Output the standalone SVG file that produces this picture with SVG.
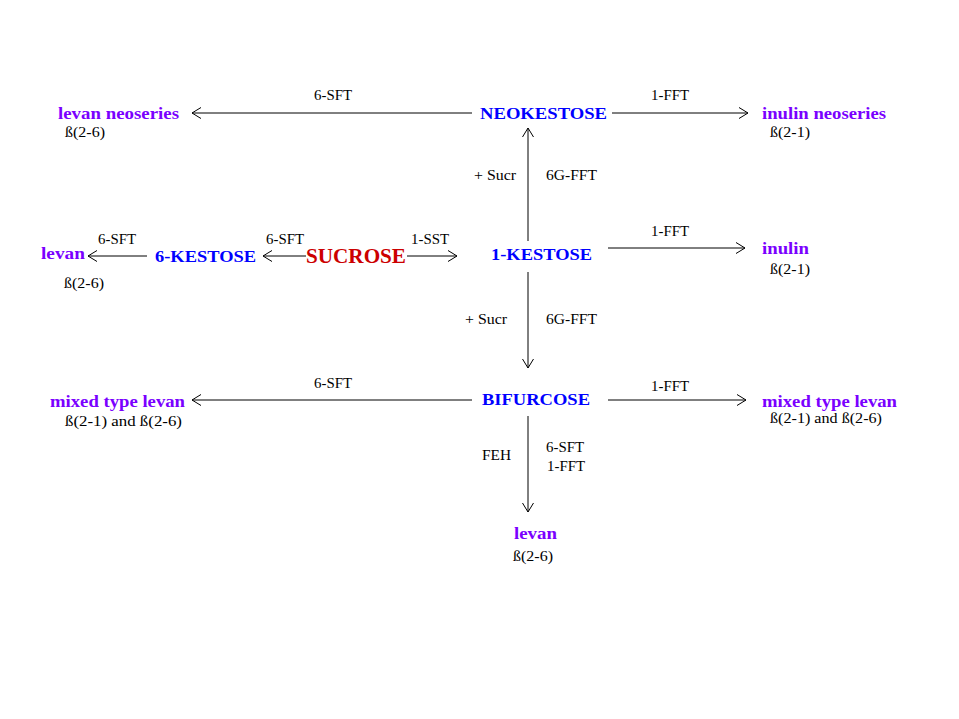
<svg xmlns="http://www.w3.org/2000/svg" width="959" height="719" viewBox="0 0 959 719">
<defs>
<marker id="ah" viewBox="0 0 10 12" refX="9" refY="6" markerWidth="10" markerHeight="12" markerUnits="userSpaceOnUse" orient="auto">
<path d="M0,0.5 L9,6 L0,11.5" fill="none" stroke="#000" stroke-width="1"/>
</marker>
<style>
.e{fill:none;stroke:#000;stroke-width:1;marker-end:url(#ah)}
.l{font-family:"Liberation Serif","Times New Roman",serif;font-size:15px;fill:#000}
.b{font-family:"Liberation Serif","Times New Roman",serif;font-size:17px;font-weight:bold;fill:#0000ff}
.p{font-family:"Liberation Serif","Times New Roman",serif;font-size:17px;font-weight:bold;fill:#7a00ff}
.r{font-family:"Liberation Serif","Times New Roman",serif;font-size:20px;font-weight:bold;fill:#cc0000}
</style>
</defs>
<rect width="959" height="719" fill="#fff"/>
<g id="connectors">
<line class="e" x1="472" y1="113" x2="192" y2="113"/>
<line class="e" x1="612" y1="113" x2="748" y2="113"/>
<line class="e" x1="528" y1="241" x2="528" y2="128"/>
<line class="e" x1="608" y1="248" x2="745" y2="248"/>
<line class="e" x1="147" y1="256" x2="88" y2="256"/>
<line class="e" x1="306" y1="256" x2="263" y2="256"/>
<line class="e" x1="407" y1="256" x2="457" y2="256"/>
<line class="e" x1="528" y1="272" x2="528" y2="368"/>
<line class="e" x1="472" y1="400" x2="192" y2="400"/>
<line class="e" x1="608" y1="400" x2="746" y2="400"/>
<line class="e" x1="528" y1="416" x2="528" y2="512"/>
<text class="l" x="314" y="100" textLength="38" lengthAdjust="spacingAndGlyphs">6-SFT</text>
<text class="l" x="651" y="100" textLength="38" lengthAdjust="spacingAndGlyphs">1-FFT</text>
<text class="l" x="474" y="180" textLength="42" lengthAdjust="spacingAndGlyphs">+ Sucr</text>
<text class="l" x="546" y="180" textLength="51" lengthAdjust="spacingAndGlyphs">6G-FFT</text>
<text class="l" x="98" y="244" textLength="38" lengthAdjust="spacingAndGlyphs">6-SFT</text>
<text class="l" x="266" y="244" textLength="38" lengthAdjust="spacingAndGlyphs">6-SFT</text>
<text class="l" x="411" y="244" textLength="38" lengthAdjust="spacingAndGlyphs">1-SST</text>
<text class="l" x="651" y="236" textLength="38" lengthAdjust="spacingAndGlyphs">1-FFT</text>
<text class="l" x="465" y="324" textLength="42" lengthAdjust="spacingAndGlyphs">+ Sucr</text>
<text class="l" x="546" y="324" textLength="51" lengthAdjust="spacingAndGlyphs">6G-FFT</text>
<text class="l" x="314" y="388" textLength="38" lengthAdjust="spacingAndGlyphs">6-SFT</text>
<text class="l" x="651" y="391" textLength="38" lengthAdjust="spacingAndGlyphs">1-FFT</text>
<text class="l" x="482" y="460" textLength="29" lengthAdjust="spacingAndGlyphs">FEH</text>
<text class="l" x="546" y="452" textLength="38" lengthAdjust="spacingAndGlyphs">6-SFT</text>
<text class="l" x="547" y="471" textLength="38" lengthAdjust="spacingAndGlyphs">1-FFT</text>
</g>
<g id="levan-neoseries"><text class="p" x="58" y="119" textLength="121" lengthAdjust="spacingAndGlyphs">levan neoseries</text><text class="l" x="65" y="137" textLength="40" lengthAdjust="spacingAndGlyphs">ß(2-6)</text></g>
<g id="neokestose"><text class="b" x="480" y="119" textLength="127" lengthAdjust="spacingAndGlyphs">NEOKESTOSE</text></g>
<g id="inulin-neoseries"><text class="p" x="762" y="119" textLength="124" lengthAdjust="spacingAndGlyphs">inulin neoseries</text><text class="l" x="770" y="137" textLength="40" lengthAdjust="spacingAndGlyphs">ß(2-1)</text></g>
<g id="levan-left"><text class="p" x="41" y="259" textLength="44" lengthAdjust="spacingAndGlyphs">levan</text><text class="l" x="64" y="288" textLength="40" lengthAdjust="spacingAndGlyphs">ß(2-6)</text></g>
<g id="kestose6"><text class="b" x="155" y="262" textLength="101" lengthAdjust="spacingAndGlyphs">6-KESTOSE</text></g>
<g id="sucrose"><text class="r" x="306" y="263" textLength="100" lengthAdjust="spacingAndGlyphs">SUCROSE</text></g>
<g id="kestose1"><text class="b" x="491" y="260" textLength="101" lengthAdjust="spacingAndGlyphs">1-KESTOSE</text></g>
<g id="inulin"><text class="p" x="762" y="254" textLength="47" lengthAdjust="spacingAndGlyphs">inulin</text><text class="l" x="770" y="274" textLength="40" lengthAdjust="spacingAndGlyphs">ß(2-1)</text></g>
<g id="mixed-left"><text class="p" x="50" y="407" textLength="135" lengthAdjust="spacingAndGlyphs">mixed type levan</text><text class="l" x="65" y="426" textLength="117" lengthAdjust="spacingAndGlyphs">ß(2-1) and ß(2-6)</text></g>
<g id="bifurcose"><text class="b" x="482" y="405" textLength="108" lengthAdjust="spacingAndGlyphs">BIFURCOSE</text></g>
<g id="mixed-right"><text class="p" x="762" y="407" textLength="135" lengthAdjust="spacingAndGlyphs">mixed type levan</text><text class="l" x="770" y="423" textLength="112" lengthAdjust="spacingAndGlyphs">ß(2-1) and ß(2-6)</text></g>
<g id="levan-bottom"><text class="p" x="514" y="539" textLength="43" lengthAdjust="spacingAndGlyphs">levan</text><text class="l" x="513" y="561" textLength="40" lengthAdjust="spacingAndGlyphs">ß(2-6)</text></g>
</svg>
